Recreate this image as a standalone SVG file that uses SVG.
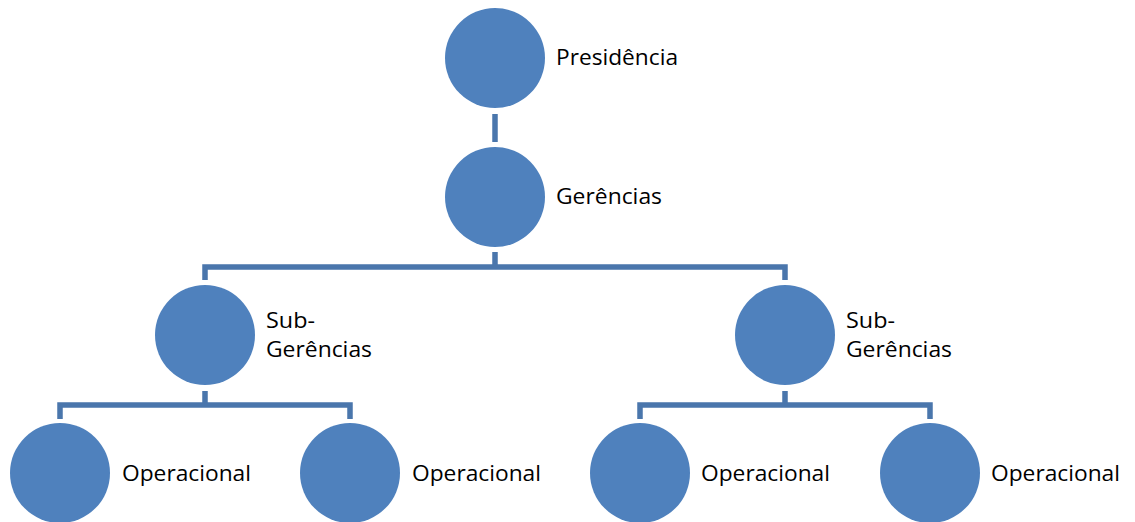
<svg xmlns="http://www.w3.org/2000/svg" width="1135" height="522" viewBox="0 0 1135 522">
<style>
.n{fill:#4F81BD}
.c{stroke:#4A76AC;stroke-width:5.5;fill:none}
.t{font-family:"Open Sans","Liberation Sans",sans-serif;font-size:22px;fill:#000}
</style>
<rect width="1135" height="522" fill="#fff"/>
<g id="connectors">
<path class="c" d="M495 114V142"/>
<path class="c" d="M495 252V267M205 280V267H785V280"/>
<path class="c" d="M205 391V405M60 419V405H350V419"/>
<path class="c" d="M785 391V405M640 419V405H930V419"/>
</g>
<g id="presidencia"><circle class="n" cx="495" cy="58" r="50"/><text class="t" x="556" y="65" textLength="122" lengthAdjust="spacingAndGlyphs">Presidência</text></g>
<g id="gerencias"><circle class="n" cx="495" cy="197" r="50"/><text class="t" x="556" y="204" textLength="106" lengthAdjust="spacingAndGlyphs">Gerências</text></g>
<g id="sub1"><circle class="n" cx="205" cy="335" r="50"/><text class="t" x="266" y="328" textLength="49" lengthAdjust="spacingAndGlyphs">Sub-</text><text class="t" x="266" y="357" textLength="106" lengthAdjust="spacingAndGlyphs">Gerências</text></g>
<g id="sub2"><circle class="n" cx="785" cy="335" r="50"/><text class="t" x="846" y="328" textLength="49" lengthAdjust="spacingAndGlyphs">Sub-</text><text class="t" x="846" y="357" textLength="106" lengthAdjust="spacingAndGlyphs">Gerências</text></g>
<g id="op1"><circle class="n" cx="60" cy="473" r="50"/><text class="t" x="122" y="481" textLength="129" lengthAdjust="spacingAndGlyphs">Operacional</text></g>
<g id="op2"><circle class="n" cx="350" cy="473" r="50"/><text class="t" x="412" y="481" textLength="129" lengthAdjust="spacingAndGlyphs">Operacional</text></g>
<g id="op3"><circle class="n" cx="640" cy="473" r="50"/><text class="t" x="701" y="481" textLength="129" lengthAdjust="spacingAndGlyphs">Operacional</text></g>
<g id="op4"><circle class="n" cx="930" cy="473" r="50"/><text class="t" x="991" y="481" textLength="129" lengthAdjust="spacingAndGlyphs">Operacional</text></g>
</svg>
